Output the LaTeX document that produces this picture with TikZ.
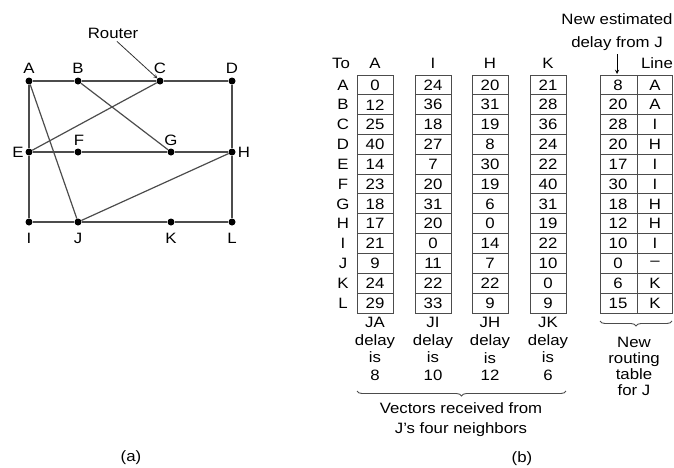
\documentclass[tikz,border=0pt]{standalone}
\usepackage{fontspec}
\setmainfont[FakeStretch=1.12]{Liberation Sans}
\usetikzlibrary{decorations.pathreplacing}

\tikzset{
  router/.style={circle,fill=black,inner sep=0pt,minimum size=7pt},
  lbl/.style={font=\fontsize{15}{17.7}\selectfont,inner sep=0pt},
  link/.style={draw=black!70,line width=1.2pt},
  cell/.style={draw=black!70,line width=1pt},
  brc/.style={draw=black!70,line width=0.9pt,decorate,decoration={brace,amplitude=5pt}},
}

\begin{document}
\begin{tikzpicture}[x=1pt,y=-1pt]
\useasboundingbox (0,0) rectangle (674,467);
% subnet of routers:
\node[router] (A) at (29,81) {};
\node[router] (B) at (78,81) {};
\node[router] (C) at (160,81) {};
\node[router] (D) at (232,81) {};
\node[router] (E) at (29,152) {};
\node[router] (F) at (78,152) {};
\node[router] (G) at (171,152) {};
\node[router] (H) at (232,152) {};
\node[router] (I) at (29,222) {};
\node[router] (J) at (78,222) {};
\node[router] (K) at (171,222) {};
\node[router] (L) at (232,222) {};
\path[link] (A) -- (B) -- (C) -- (D) -- (H) -- (L) -- (K) -- (J) -- (I) -- (E) -- (A);
\path[link] (E) -- (F) -- (G) -- (H);
\path[link] (A) -- (J) -- (H);
\path[link] (E) -- (C);
\path[link] (B) -- (G);
% router names:
\node[lbl] (lA) at (29,68) {A};
\node[lbl] (lB) at (78,68) {B};
\node[lbl] (lC) at (160,68) {C};
\node[lbl] (lD) at (232,68) {D};
\node[lbl] (lE) at (18,152) {E};
\node[lbl] (lF) at (79,140) {F};
\node[lbl] (lG) at (171,140) {G};
\node[lbl] (lH) at (244,152) {H};
\node[lbl] (lI) at (29,238) {I};
\node[lbl] (lJ) at (78,238) {J};
\node[lbl] (lK) at (171,238) {K};
\node[lbl] (lL) at (232,238) {L};
\node[lbl] (router) at (113,33) {Router};
\draw[draw=black!80,line width=0.8pt,-stealth] (router.south) ++(4,3) coordinate (rs) -- (C.north west);
\node[lbl] (capa) at (131,458) {(a)};
% vectors from the neighbors:
\node[lbl] (to) at (341,63) {To};
\foreach \d [count=\r] in {A,B,C,D,E,F,G,H,I,J,K,L}
  \node[lbl] (to\d) at (343,65.1+\r*19.83) {\d};
\foreach \c/\x/\vals in {A/375/{0,12,25,40,14,23,18,17,21,9,24,29},
                        I/433/{24,36,18,27,7,20,31,20,0,11,22,33},
                        H/490/{20,31,19,8,30,19,6,0,14,7,22,9},
                        K/548/{21,28,36,24,22,40,31,19,22,10,0,9}} {
  \node[lbl] (hd\c) at (\x,63) {\c};
  \path[cell] (\x-18,75) rectangle (\x+18,313);
  \foreach \r in {1,...,11}
    \path[cell] (\x-18,75+\r*19.83) -- (\x+18,75+\r*19.83);
  \foreach \v [count=\r] in \vals
    \node[lbl] (v\c\r) at (\x,65.1+\r*19.83) {\v};
}
\node[lbl,align=center] (dA) at (375,349) {JA\\delay\\is\\8};
\node[lbl,align=center] (dI) at (433,349) {JI\\delay\\is\\10};
\node[lbl,align=center] (dH) at (490,349) {JH\\delay\\is\\12};
\node[lbl,align=center] (dK) at (548,349) {JK\\delay\\is\\6};
\coordinate (b1) at (357,391);
\coordinate (b2) at (566,391);
\path[brc] (b2) -- (b1);
\node[lbl,align=center,font=\fontsize{15}{20}\selectfont] (vec) at (461,420) {Vectors received from\\J's four neighbors};
% new routing table for J:
\node[lbl,align=center,font=\fontsize{15}{23}\selectfont] (est) at (617,32) {New estimated\\delay from J};
\node[lbl] (line) at (657,63) {Line};
\coordinate (arr) at (617,54);
\coordinate (top) at (617,74);
\path[cell] (600,75) rectangle (672,313);
\path[cell] (637,75) -- (637,313);
\foreach \r in {1,...,11}
  \path[cell] (600,75+\r*19.83) -- (672,75+\r*19.83);
\foreach \v/\l [count=\r] in {8/A,20/A,28/I,20/H,17/I,30/I,18/H,12/H,10/I,0/--,6/K,15/K} {
  \node[lbl] (nd\r) at (618,65.1+\r*19.83) {\v};
  \node[lbl] (nl\r) at (655,65.1+\r*19.83) {\l};
}
\draw[draw=black,line width=0.9pt,-stealth] (arr) -- (top);
\coordinate (b3) at (600,321);
\coordinate (b4) at (672,321);
\path[brc] (b4) -- (b3);
\node[lbl,align=center,font=\fontsize{15}{16}\selectfont] (newt) at (634,366) {New\\routing\\table\\for J};
\node[lbl] (capb) at (522,459) {(b)};
\end{tikzpicture}
\end{document}
